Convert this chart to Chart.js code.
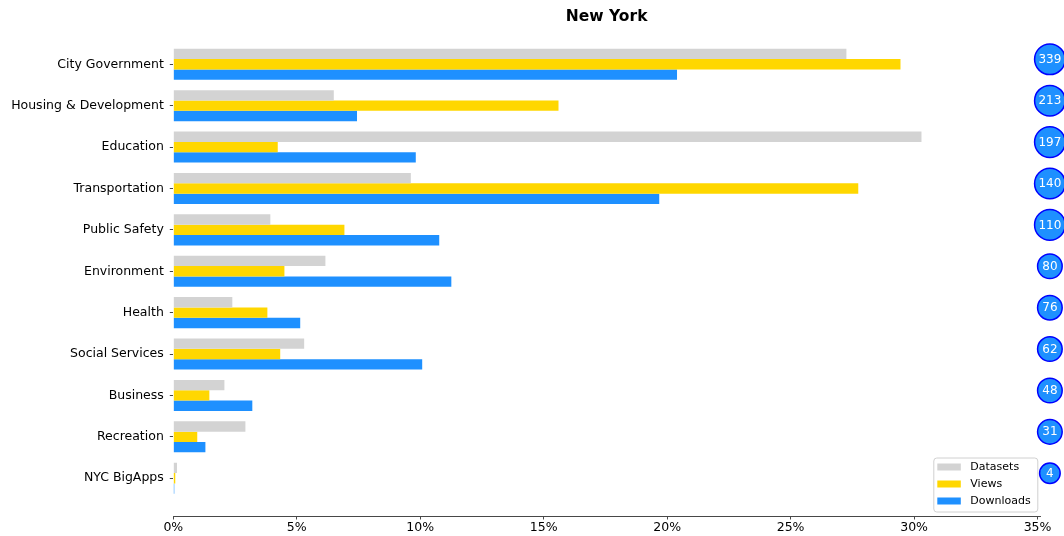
<!DOCTYPE html>
<html>
<head>
<meta charset="utf-8">
<script src="https://cdn.jsdelivr.net/npm/chart.js@4"></script>
<style>
    body { margin: 0; background: #fff; }
    #wrap { width: 1064px; height: 536px; }
</style>
</head>
<body>
<div id="wrap"><canvas id="nyChart" width="1064" height="536"></canvas></div>
<script>
// === DATA ===
const categories = ['City Government', 'Housing & Development', 'Education', 'Transportation', 'Public Safety',
    'Environment', 'Health', 'Social Services', 'Business', 'Recreation', 'NYC BigApps'];
const datasetShare  = [27.26, 6.5, 30.3, 9.62, 3.93, 6.16, 2.39, 5.3, 2.07, 2.92, 0.15];
const viewShare     = [29.45, 15.6, 4.23, 27.74, 6.93, 4.5, 3.81, 4.33, 1.46, 0.97, 0.08];
const downloadShare = [20.4, 7.44, 9.82, 19.68, 10.77, 11.26, 5.14, 10.08, 3.2, 1.3, 0.04];
const datasetCounts = [339, 213, 197, 140, 110, 80, 76, 62, 48, 31, 4];
const xTicks = [0, 5, 10, 15, 20, 25, 30, 35];

const FONT = 'DejaVu Sans';

const toPoints = arr => arr.map((v, i) => ({ x: v, y: i }));

// count circles to the right of the axis
const bubbleLabels = {
    id: 'bubbleLabels',
    afterDatasetsDraw(chart) {
        const ctx = chart.ctx;
        const meta = chart.getDatasetMeta(3);
        ctx.save();
        ctx.fillStyle = '#ffffff';
        ctx.font = '12px "' + FONT + '"';
        ctx.textAlign = 'center';
        ctx.textBaseline = 'middle';
        meta.data.forEach((el, i) => ctx.fillText(String(datasetCounts[i]), el.x, el.y + 0.5));
        ctx.restore();
    }
};

// legend inside the lower right corner
const legendBox = {
    id: 'legendBox',
    afterDraw(chart) {
        const { ctx, chartArea } = chart;
        const items = chart.data.datasets.filter(d => d.type !== 'bubble');
        const w = 104, h = 54;
        const x = chartArea.right - 2.7 - w;
        const y = chartArea.bottom - 4.5 - h;
        ctx.save();
        ctx.fillStyle = 'rgba(255,255,255,0.8)';
        ctx.strokeStyle = '#d0d0d0';
        ctx.lineWidth = 1;
        ctx.beginPath();
        ctx.roundRect(x + 0.5, y + 0.5, w, h, 3);
        ctx.fill();
        ctx.stroke();
        ctx.font = '11px "' + FONT + '"';
        ctx.textBaseline = 'middle';
        ctx.textAlign = 'left';
        items.forEach((d, i) => {
            const cy = y + 9.5 + i * 17;
            ctx.fillStyle = d.backgroundColor;
            ctx.fillRect(x + 4, cy - 3.5, 23.5, 7);
            ctx.fillStyle = '#000';
            ctx.fillText(d.label, x + 37, cy);
        });
        ctx.restore();
    }
};

const ctx = document.getElementById('nyChart').getContext('2d');
new Chart(ctx, {
    type: 'bar',
    data: {
        datasets: [{
            label: 'Datasets',
            data: toPoints(datasetShare),
            backgroundColor: '#d3d3d3'
        }, {
            label: 'Views',
            data: toPoints(viewShare),
            backgroundColor: '#ffd700'
        }, {
            label: 'Downloads',
            data: toPoints(downloadShare),
            backgroundColor: '#1e90ff'
        }, {
            type: 'bubble',
            label: 'count',
            data: datasetCounts.map((c, i) => ({ x: 35.5, y: i - 0.12, r: String(c).length === 3 ? 15.3 : String(c).length === 2 ? 12.3 : 10.3 })),
            backgroundColor: '#1e90ff',
            borderColor: '#0000ff',
            borderWidth: 1.5,
            clip: false
        }]
    },
    options: {
        indexAxis: 'y',
        responsive: false,
        animation: false,
        layout: { padding: { left: 0, right: 24, top: 0, bottom: 0 } },
        datasets: {
            bar: { categoryPercentage: 0.75, barPercentage: 1.0 }
        },
        plugins: {
            legend: { display: false },
            tooltip: { enabled: false },
            title: {
                display: true,
                text: 'New York',
                fullSize: false,
                color: '#000',
                font: { family: FONT, size: 15.5, weight: 'bold', lineHeight: 1.0 },
                padding: { top: 9.5, bottom: 1.5 }
            }
        },
        scales: {
            x: {
                type: 'linear',
                min: 0,
                max: 35.1,
                border: { display: true, color: '#333', width: 0.9 },
                grid: { display: true, drawOnChartArea: false, offset: false, tickLength: 3.5, color: '#333', lineWidth: 0.9 },
                afterBuildTicks: scale => { scale.ticks = xTicks.map(v => ({ value: v })); },
                afterFit: scale => { scale.height = 20; },
                ticks: {
                    padding: 1,
                    color: '#000',
                    font: { family: FONT, size: 12.5 },
                    callback: value => value + '%'
                }
            },
            y: {
                type: 'linear',
                reverse: true,
                min: -0.9125,
                max: 10.9125,
                offset: false,
                border: { display: false },
                grid: { display: true, drawOnChartArea: false, offset: false, tickLength: 3.5, color: '#333', lineWidth: 0.9 },
                afterBuildTicks: scale => { scale.ticks = categories.map((_, i) => ({ value: i })); },
                afterFit: scale => { scale.width = 173.3; },
                ticks: {
                    autoSkip: false,
                    padding: 6,
                    color: '#000',
                    font: { family: FONT, size: 12.5 },
                    callback: value => categories[value]
                }
            }
        }
    },
    plugins: [bubbleLabels, legendBox]
});
</script>
</body>
</html>
